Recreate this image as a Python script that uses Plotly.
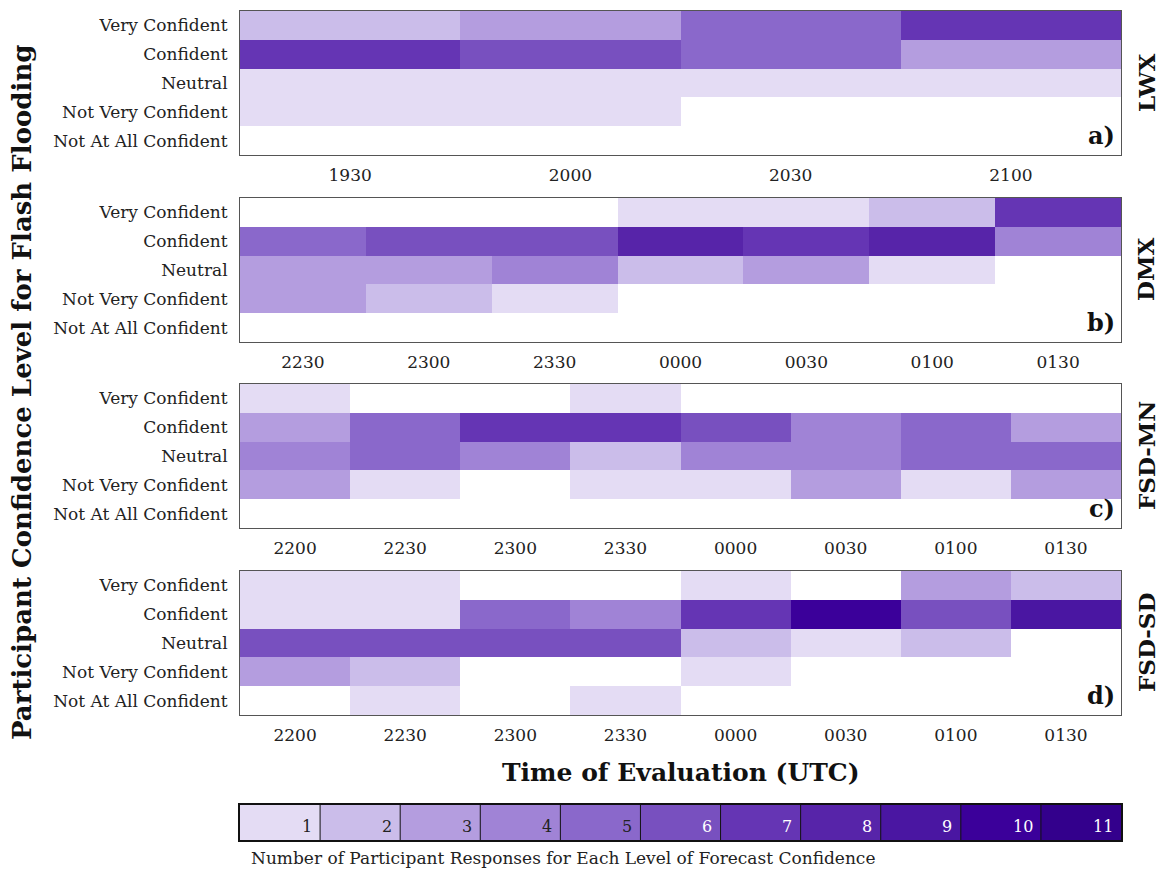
import plotly.graph_objects as go

# Confidence categories, listed top row first
levels = ["Very Confident", "Confident", "Neutral", "Not Very Confident", "Not At All Confident"]

# Participant response counts per confidence level (rows) and evaluation time (columns)
lwx_times = ["1930", "2000", "2030", "2100"]
lwx_counts = [
    [2, 3, 5, 7],
    [7, 6, 5, 3],
    [1, 1, 1, 1],
    [1, 1, 0, 0],
    [0, 0, 0, 0],
]

dmx_times = ["2230", "2300", "2330", "0000", "0030", "0100", "0130"]
dmx_counts = [
    [0, 0, 0, 1, 1, 2, 7],
    [5, 6, 6, 8, 7, 8, 4],
    [3, 3, 4, 2, 3, 1, 0],
    [3, 2, 1, 0, 0, 0, 0],
    [0, 0, 0, 0, 0, 0, 0],
]

fsd_times = ["2200", "2230", "2300", "2330", "0000", "0030", "0100", "0130"]
fsd_mn_counts = [
    [1, 0, 0, 1, 0, 0, 0, 0],
    [3, 5, 7, 7, 6, 4, 5, 3],
    [4, 5, 4, 2, 4, 4, 5, 5],
    [3, 1, 0, 1, 1, 3, 1, 3],
    [0, 0, 0, 0, 0, 0, 0, 0],
]
fsd_sd_counts = [
    [1, 1, 0, 0, 1, 0, 3, 2],
    [1, 1, 5, 4, 7, 10, 6, 9],
    [6, 6, 6, 6, 2, 1, 2, 0],
    [3, 2, 0, 0, 1, 0, 0, 0],
    [0, 1, 0, 1, 0, 0, 0, 0],
]

offices = ["LWX", "DMX", "FSD-MN", "FSD-SD"]
panel_tags = ["a)", "b)", "c)", "d)"]
panel_times = [lwx_times, dmx_times, fsd_times, fsd_times]
panel_counts = [lwx_counts, dmx_counts, fsd_mn_counts, fsd_sd_counts]

# Legend scale: number of responses 1..11
count_levels = list(range(1, 12))
level_colors = [
    "#e4dcf4", "#cbbdea", "#b49ddf", "#a083d6", "#8a68cb", "#7850bf",
    "#6535b4", "#5724a9", "#4a16a2", "#3b009a", "#33008c",
]

# Stepped colour scale, one band per integer count
n = len(level_colors)
colorscale = []
for i, c in enumerate(level_colors):
    colorscale.append([i / n, c])
    colorscale.append([(i + 1) / n, c])

W, H = 1159, 869
FONT = "DejaVu Serif"


def py(px):
    return 1 - px / H


x_dom = [240 / W, 1121 / W]
panel_px = [(11, 155), (198, 342), (384, 528), (571, 715)]
bar_px = (805, 840)

fig = go.Figure()
layout_axes = {}
annotations = []
shapes = []

for k in range(4):
    idx = k + 1
    xa = "x" if idx == 1 else f"x{idx}"
    ya = "y" if idx == 1 else f"y{idx}"
    z = [[v if v > 0 else None for v in row] for row in panel_counts[k]]
    fig.add_trace(go.Heatmap(
        z=z, x=panel_times[k], y=levels,
        colorscale=colorscale, zmin=0.5, zmax=n + 0.5,
        showscale=False, xaxis=xa, yaxis=ya, hoverongaps=False,
    ))
    top, bot = panel_px[k]
    layout_axes[f"xaxis{'' if idx == 1 else idx}"] = dict(
        domain=x_dom, anchor=ya, type="category",
        showline=True, mirror=True, linecolor="#555555", linewidth=1,
        ticks="outside", ticklen=5, tickcolor="rgba(0,0,0,0)",
        tickfont=dict(family=FONT, size=17, color="#222222"),
        showgrid=False, zeroline=False, fixedrange=True,
    )
    layout_axes[f"yaxis{'' if idx == 1 else idx}"] = dict(
        domain=[py(bot), py(top)], anchor=xa, type="category",
        categoryorder="array", categoryarray=levels, autorange="reversed",
        showline=True, mirror=True, linecolor="#555555", linewidth=1,
        ticks="outside", ticklen=8, tickcolor="rgba(0,0,0,0)",
        tickfont=dict(family=FONT, size=17, color="#222222"),
        showgrid=False, zeroline=False, fixedrange=True,
    )
    # office name on the right edge
    annotations.append(dict(
        text=f"<b>{offices[k]}</b>", xref="paper", yref="paper",
        x=1146 / W, y=py((top + bot) / 2), xanchor="center", yanchor="middle",
        textangle=-90, showarrow=False,
        font=dict(family=FONT, size=23, color="#111111"),
    ))
    # panel tag in the lower-right corner
    annotations.append(dict(
        text=f"<b>{panel_tags[k]}</b>", xref=f"{xa} domain", yref=f"{ya} domain",
        x=0.996, y=0.02, xanchor="right", yanchor="bottom", showarrow=False,
        font=dict(family=FONT, size=24, color="#111111"),
    ))

# Colour key along the bottom
fig.add_trace(go.Heatmap(
    z=[count_levels], x=count_levels, y=[0],
    colorscale=colorscale, zmin=0.5, zmax=n + 0.5,
    showscale=False, xaxis="x5", yaxis="y5", hoverinfo="skip",
))
layout_axes["xaxis5"] = dict(
    domain=x_dom, anchor="y5", range=[0.5, n + 0.5],
    showline=True, mirror=True, linecolor="#111111", linewidth=1.5,
    showticklabels=False, ticks="", showgrid=False, zeroline=False, fixedrange=True,
)
layout_axes["yaxis5"] = dict(
    domain=[py(bar_px[1]), py(bar_px[0])], anchor="x5", range=[-0.5, 0.5],
    showline=True, mirror=True, linecolor="#111111", linewidth=1.5,
    showticklabels=False, ticks="", showgrid=False, zeroline=False, fixedrange=True,
)
for v in count_levels:
    if v < count_levels[-1]:
        shapes.append(dict(
            type="line", xref="x5", yref="y5 domain", x0=v + 0.5, x1=v + 0.5,
            y0=0, y1=1, line=dict(color="#111111", width=1),
        ))
    annotations.append(dict(
        text=str(v), xref="x5", yref="y5", x=v + 0.42, y=-0.1,
        xanchor="right", yanchor="middle", showarrow=False,
        font=dict(family=FONT, size=16, color="#222222" if v <= 5 else "#ffffff"),
    ))

annotations.append(dict(
    text="Number of Participant Responses for Each Level of Forecast Confidence",
    xref="paper", yref="paper", x=249 / W, y=py(858), xanchor="left", yanchor="middle",
    showarrow=False, font=dict(family=FONT, size=17, color="#222222"),
))
annotations.append(dict(
    text="<b>Time of Evaluation (UTC)</b>", xref="paper", yref="paper",
    x=681 / W, y=py(772), xanchor="center", yanchor="middle", showarrow=False,
    font=dict(family=FONT, size=25, color="#111111"),
))
annotations.append(dict(
    text="<b>Participant Confidence Level for Flash Flooding</b>", xref="paper", yref="paper",
    x=22 / W, y=py(392), xanchor="center", yanchor="middle", textangle=-90,
    showarrow=False, font=dict(family=FONT, size=26, color="#111111"),
))

fig.update_layout(
    width=W, height=H, margin=dict(l=0, r=0, t=0, b=0),
    paper_bgcolor="white", plot_bgcolor="white",
    annotations=annotations, shapes=shapes, showlegend=False,
    **layout_axes,
)

fig.write_html("out.html")
